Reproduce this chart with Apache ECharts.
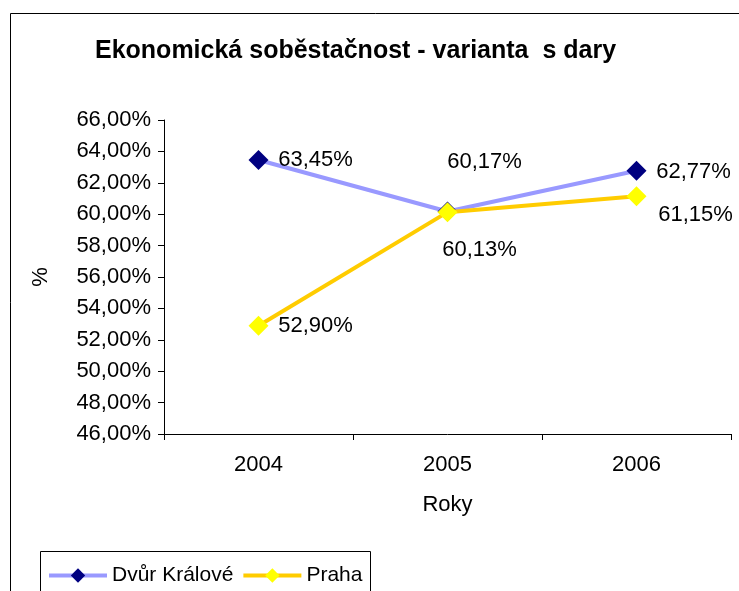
<!DOCTYPE html>
<html><head><meta charset="utf-8">
<script src="https://cdn.jsdelivr.net/npm/echarts@6/dist/echarts.min.js"></script>
<style>html,body{margin:0;padding:0;background:#fff}#c{width:739px;height:591px}</style>
</head><body><div id="c"></div>
<script>
var categories = ['2004', '2005', '2006'];
var dvurValues = [63.45, 60.17, 62.77];
var prahaValues = [52.90, 60.13, 61.15];
var seriesNames = ['Dvůr Králové', 'Praha'];
var titleText = 'Ekonomická soběstačnost - varianta  s dary';

var FONT = '"Liberation Sans", Arial, sans-serif';
var FS = 22;
function pct(v){ return v.toFixed(2).replace('.', ',') + '%'; }

var dvurOffsets = [[57, 0], [37, -50], [57, 1]];
var prahaOffsets = [[57, 0], [32, 38], [59, 19]];

function mk(values, offsets){
  return values.map(function(v, i){
    return { value: v, label: { offset: offsets[i] } };
  });
}

var chart = echarts.init(document.getElementById('c'), null, {renderer: 'canvas'});
chart.setOption({
  animation: false,
  backgroundColor: '#fff',
  title: {
    text: titleText, left: 90, top: 34,
    textStyle: { fontFamily: FONT, fontSize: 25, fontWeight: 'bold', color: '#000' }
  },
  graphic: [
    { type: 'rect', shape: { x: 10.5, y: 13.5, width: 760, height: 600 }, style: { fill: 'none', stroke: '#000', lineWidth: 1 }, z: -1 },
    { type: 'rect', shape: { x: 40.5, y: 551.5, width: 330, height: 60 }, style: { fill: '#fff', stroke: '#000', lineWidth: 1 }, z: 0 }
  ],
  legend: {
    left: 42, top: 560, itemGap: 8, itemWidth: 58, itemHeight: 18,
    textStyle: { fontFamily: FONT, fontSize: 21, color: '#000' },
    lineStyle: { width: 4 },
    data: seriesNames, z: 10
  },
  grid: { left: 164, right: 8, top: 120, bottom: 157, containLabel: false },
  xAxis: {
    type: 'category', data: categories, boundaryGap: true,
    name: 'Roky', nameLocation: 'middle', nameGap: 60,
    nameTextStyle: { fontFamily: FONT, fontSize: FS, color: '#000' },
    axisLine: { lineStyle: { color: '#000', width: 1 } },
    axisTick: { show: true, length: 6, lineStyle: { color: '#000' } },
    axisLabel: { fontFamily: FONT, fontSize: FS, color: '#000', margin: 20 },
    splitLine: { show: false }
  },
  yAxis: {
    type: 'value', min: 46, max: 66, interval: 2,
    name: '%', nameLocation: 'middle', nameGap: 112, nameRotate: 90,
    nameTextStyle: { fontFamily: FONT, fontSize: FS, color: '#000' },
    axisLine: { show: true, lineStyle: { color: '#000', width: 1 } },
    axisTick: { show: true, length: 6, lineStyle: { color: '#000' } },
    axisLabel: { fontFamily: FONT, fontSize: FS, color: '#000', margin: 13, formatter: function(v){ return pct(v); } },
    splitLine: { show: false }
  },
  series: [
    {
      name: seriesNames[0], type: 'line', data: mk(dvurValues, dvurOffsets),
      symbol: 'diamond', symbolSize: 20,
      lineStyle: { color: '#9999FF', width: 4 },
      itemStyle: { color: '#000080', borderWidth: 0 },
      label: { show: true, position: 'inside', fontFamily: FONT, fontSize: FS, color: '#000',
        formatter: function(p){ return pct(p.value); } },
      z: 2
    },
    {
      name: seriesNames[1], type: 'line', data: mk(prahaValues, prahaOffsets),
      symbol: 'diamond', symbolSize: 20,
      lineStyle: { color: '#FFCC00', width: 4 },
      itemStyle: { color: '#FFFF00', borderWidth: 0 },
      label: { show: true, position: 'inside', fontFamily: FONT, fontSize: FS, color: '#000',
        formatter: function(p){ return pct(p.value); } },
      z: 3
    }
  ]
});
</script></body></html>
